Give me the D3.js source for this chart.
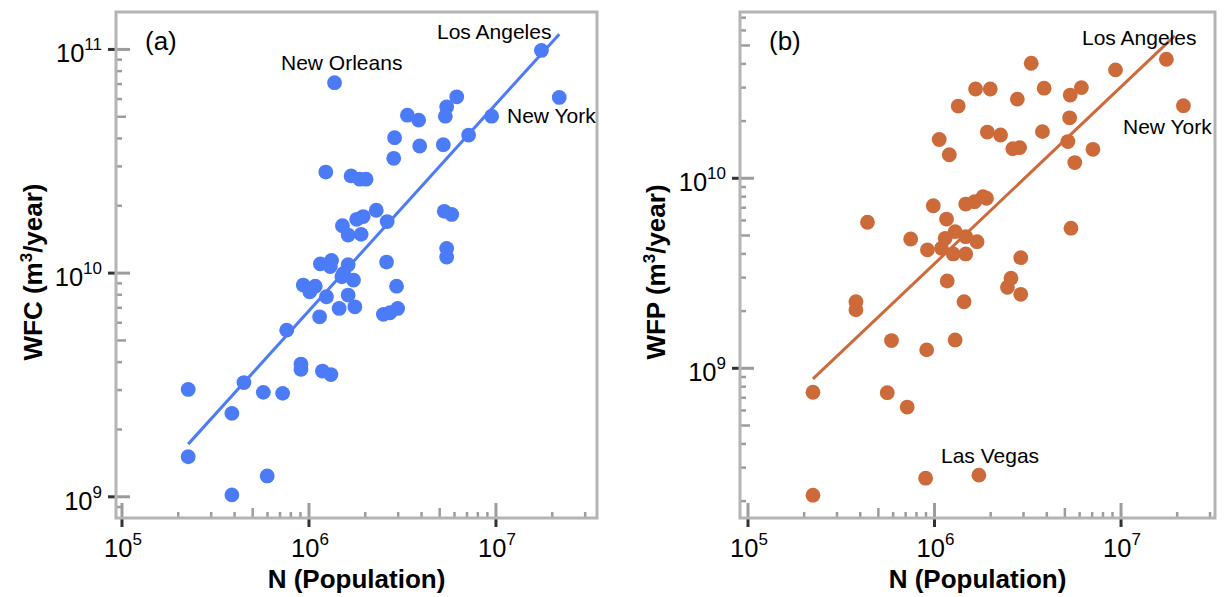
<!DOCTYPE html>
<html><head><meta charset="utf-8">
<script src="https://cdn.jsdelivr.net/npm/d3@7"></script>
<style>
body{margin:0;background:#fff}
svg{display:block}
text{font-family:"Liberation Sans",Arial,Helvetica,sans-serif;fill:#000}
</style>
</head><body>
<svg id="chart" width="1226" height="597"></svg>
<script>
// ---------- DATA ----------
// Panel (a): water footprint of consumption vs population
const popA = [1.75e7,1.37e6,6.17e6,2.18e7,5.45e6,5.36e6,3.36e6,3.86e6,9.48e6,7.14e6,
  2.87e6,3.91e6,5.23e6,2.84e6,1.23e6,1.68e6,1.87e6,2.02e6,2.29e6,2.62e6,
  1.80e6,1.95e6,1.51e6,1.62e6,1.90e6,5.29e6,5.80e6,5.45e6,5.45e6,1.15e6,
  1.32e6,1.30e6,1.62e6,2.60e6,1.50e6,1.73e6,1.53e6,9.32e5,1.08e6,2.94e6,
  1.01e6,1.24e6,1.62e6,1.14e6,1.45e6,1.76e6,2.50e6,2.71e6,2.98e6,7.6e5,
  9.06e5,9.06e5,1.18e6,1.31e6,4.49e5,2.26e5,5.70e5,7.23e5,3.87e5,2.26e5,
  5.98e5,3.87e5];
const wfc = [9.9e10,7.1e10,6.14e10,6.1e10,5.54e10,5.03e10,5.08e10,4.83e10,5.03e10,4.14e10,
  4.03e10,3.7e10,3.75e10,3.26e10,2.83e10,2.72e10,2.63e10,2.63e10,1.91e10,1.70e10,
  1.74e10,1.79e10,1.63e10,1.48e10,1.49e10,1.89e10,1.83e10,1.29e10,1.18e10,1.10e10,
  1.14e10,1.07e10,1.09e10,1.12e10,9.63e9,9.31e9,9.97e9,8.84e9,8.74e9,8.74e9,
  8.25e9,7.84e9,7.98e9,6.38e9,6.95e9,7.07e9,6.54e9,6.65e9,6.95e9,5.56e9,
  3.92e9,3.71e9,3.65e9,3.52e9,3.24e9,3.02e9,2.93e9,2.90e9,2.36e9,1.51e9,
  1.24e9,1.02e9];
const fitPopA = [2.26e5, 2.18e7];
const fitWfc  = [1.72e9, 1.17e11];

// Panel (b): water footprint of production vs population
const popB = [1.75e7,9.34e6,3.30e6,2.16e7,1.66e6,1.99e6,3.87e6,5.34e6,6.13e6,2.78e6,
  1.34e6,5.30e6,1.92e6,2.26e6,3.79e6,1.06e6,5.19e6,2.63e6,2.86e6,7.07e6,
  1.20e6,5.65e6,4.37e5,9.85e5,1.16e6,1.47e6,1.64e6,1.82e6,1.90e6,5.39e6,
  7.45e5,1.14e6,1.29e6,1.47e6,1.69e6,9.16e5,1.09e6,1.26e6,1.47e6,2.90e6,
  1.17e6,2.57e6,2.46e6,2.90e6,3.79e5,3.79e5,1.44e6,5.88e5,1.29e6,9.08e5,
  2.23e5,5.58e5,7.14e5,1.73e6,8.96e5,2.23e5];
const wfp = [4.23e10,3.72e10,4.03e10,2.41e10,2.95e10,2.95e10,2.98e10,2.74e10,3.0e10,2.61e10,
  2.40e10,2.08e10,1.75e10,1.69e10,1.76e10,1.60e10,1.56e10,1.43e10,1.45e10,1.42e10,
  1.33e10,1.21e10,5.87e9,7.17e9,6.1e9,7.32e9,7.53e9,8.0e9,7.85e9,5.46e9,
  4.79e9,4.83e9,5.24e9,4.93e9,4.64e9,4.20e9,4.28e9,4.0e9,4.0e9,3.82e9,
  2.88e9,2.98e9,2.67e9,2.45e9,2.24e9,2.03e9,2.24e9,1.40e9,1.41e9,1.25e9,
  7.48e8,7.44e8,6.25e8,2.74e8,2.64e8,2.15e8];
const fitPopB = [2.23e5, 1.94e7];
const fitWfp  = [8.79e8, 5.61e10];

// Axis domains and tick labels
const xDomainA = [9.29e4, 3.47e7];
const yDomainA = [8.04e8, 1.47e11];
const xDomainB = [9.06e4, 3.19e7];
const yDomainB = [1.63e8, 7.5e10];
const xMajorTicks = [1e5, 1e6, 1e7];
const xTickExps = ["5", "6", "7"];
const yMajorTicksA = [1e9, 1e10, 1e11];
const yTickExpsA = ["9", "10", "11"];
const yMajorTicksB = [1e9, 1e10];
const yTickExpsB = ["9", "10"];
const cityLabelsA = ["New Orleans", "Los Angeles", "New York"];
const cityLabelsB = ["Los Angeles", "New York", "Las Vegas"];

// ---------- DRAW ----------
const svg = d3.select("#chart");
const FRAME = "#b4b4b4", TICK_IN = "#9c9c9c", TICK_OUT = "#333";

function minorTicks(domain) {
  const out = [];
  const lo = Math.floor(Math.log10(domain[0])), hi = Math.ceil(Math.log10(domain[1]));
  for (let e = lo; e <= hi; e++) for (let m = 2; m <= 9; m++) {
    const v = m * Math.pow(10, e);
    if (v > domain[0] && v < domain[1]) out.push({v, mid: m === 5});
  }
  return out;
}

function drawPanel(cfg) {
  const g = svg.append("g");
  const x = d3.scaleLog().domain(cfg.xDomain).range([cfg.x0, cfg.x1]);
  const y = d3.scaleLog().domain(cfg.yDomain).range([cfg.y1, cfg.y0]);

  g.selectAll(".ymin").data(minorTicks(cfg.yDomain)).join("line")
    .attr("x1", cfg.x0).attr("x2", d => cfg.x0 + (d.mid ? 10 : 6))
    .attr("y1", d => y(d.v)).attr("y2", d => y(d.v))
    .attr("stroke", TICK_IN).attr("stroke-width", 2.5);
  g.selectAll(".xmin").data(minorTicks(cfg.xDomain)).join("line")
    .attr("y1", cfg.y1).attr("y2", d => cfg.y1 - (d.mid ? 10 : 6))
    .attr("x1", d => x(d.v)).attr("x2", d => x(d.v))
    .attr("stroke", TICK_IN).attr("stroke-width", 2.5);
  g.selectAll(".ymajin").data(cfg.yMajors).join("line")
    .attr("x1", cfg.x0).attr("x2", cfg.x0 + 14)
    .attr("y1", d => y(d)).attr("y2", d => y(d))
    .attr("stroke", TICK_IN).attr("stroke-width", 3);
  g.selectAll(".ymajout").data(cfg.yMajors).join("line")
    .attr("x1", cfg.x0 - 8).attr("x2", cfg.x0)
    .attr("y1", d => y(d)).attr("y2", d => y(d))
    .attr("stroke", TICK_OUT).attr("stroke-width", 3);
  g.selectAll(".xmajin").data(xMajorTicks).join("line")
    .attr("y1", cfg.y1).attr("y2", cfg.y1 - 15)
    .attr("x1", d => x(d)).attr("x2", d => x(d))
    .attr("stroke", TICK_IN).attr("stroke-width", 3);
  g.selectAll(".xmajout").data(xMajorTicks).join("line")
    .attr("y1", cfg.y1).attr("y2", cfg.y1 + 9)
    .attr("x1", d => x(d)).attr("x2", d => x(d))
    .attr("stroke", TICK_OUT).attr("stroke-width", 3);

  g.append("rect").attr("x", cfg.x0).attr("y", cfg.y0)
    .attr("width", cfg.x1 - cfg.x0).attr("height", cfg.y1 - cfg.y0)
    .attr("fill", "none").attr("stroke", FRAME).attr("stroke-width", 3);

  const yl = g.selectAll(".ylab").data(cfg.yMajors).join("text")
    .attr("x", cfg.x0 - 14).attr("y", d => y(d) + 13)
    .attr("text-anchor", "end").attr("font-size", 25.5);
  yl.append("tspan").text("10");
  yl.append("tspan").attr("dy", -12).attr("font-size", 17).text((d, i) => cfg.yExps[i]);
  const xl = g.selectAll(".xlab").data(xMajorTicks).join("text")
    .attr("x", d => x(d) + 1).attr("y", cfg.y1 + 39)
    .attr("text-anchor", "middle").attr("font-size", 25.5);
  xl.append("tspan").text("10");
  xl.append("tspan").attr("dy", -12).attr("font-size", 17).text((d, i) => xTickExps[i]);

  g.append("text").attr("x", (cfg.x0 + cfg.x1) / 2).attr("y", 588)
    .attr("text-anchor", "middle").attr("font-size", 26).attr("font-weight", "bold")
    .text("N (Population)");
  const yt = g.append("text")
    .attr("transform", `translate(${cfg.yTitleX},272) rotate(-90)`)
    .attr("text-anchor", "middle").attr("font-size", 26).attr("font-weight", "bold");
  yt.append("tspan").text(cfg.yTitle + " (m");
  yt.append("tspan").attr("dy", -10).attr("font-size", 17).text("3");
  yt.append("tspan").attr("dy", 10).text("/year)");

  const fit = cfg.fitX.map((v, i) => [v, cfg.fitY[i]]);
  g.append("path").datum(fit)
    .attr("d", d3.line().x(d => x(d[0])).y(d => y(d[1])))
    .attr("stroke", cfg.color).attr("stroke-width", 3).attr("fill", "none");

  g.selectAll(".pt").data(cfg.xs.map((v, i) => [v, cfg.ys[i]])).join("circle")
    .attr("cx", d => x(d[0])).attr("cy", d => y(d[1])).attr("r", 7.4)
    .attr("fill", cfg.color);

  g.append("text").attr("x", cfg.letterPos[0]).attr("y", cfg.letterPos[1])
    .attr("font-size", 26).text(cfg.letter);
  g.selectAll(".city").data(cfg.labels).join("text")
    .attr("x", (d, i) => cfg.labelPos[i][0]).attr("y", (d, i) => cfg.labelPos[i][1])
    .attr("font-size", 21).text(d => d);
}

drawPanel({
  x0: 116, x1: 597, y0: 12, y1: 518,
  xDomain: xDomainA, yDomain: yDomainA,
  xs: popA, ys: wfc, fitX: fitPopA, fitY: fitWfc,
  color: "#4b7bf6", yMajors: yMajorTicksA, yExps: yTickExpsA,
  yTitle: "WFC", yTitleX: 42, letter: "(a)", letterPos: [145, 50],
  labels: cityLabelsA, labelPos: [[281, 70], [437, 39], [507, 123]]
});
drawPanel({
  x0: 740, x1: 1215, y0: 12, y1: 518,
  xDomain: xDomainB, yDomain: yDomainB,
  xs: popB, ys: wfp, fitX: fitPopB, fitY: fitWfp,
  color: "#cd6a3a", yMajors: yMajorTicksB, yExps: yTickExpsB,
  yTitle: "WFP", yTitleX: 665, letter: "(b)", letterPos: [769, 50],
  labels: cityLabelsB, labelPos: [[1082, 45], [1123, 134], [941, 463]]
});
</script>
</body></html>
